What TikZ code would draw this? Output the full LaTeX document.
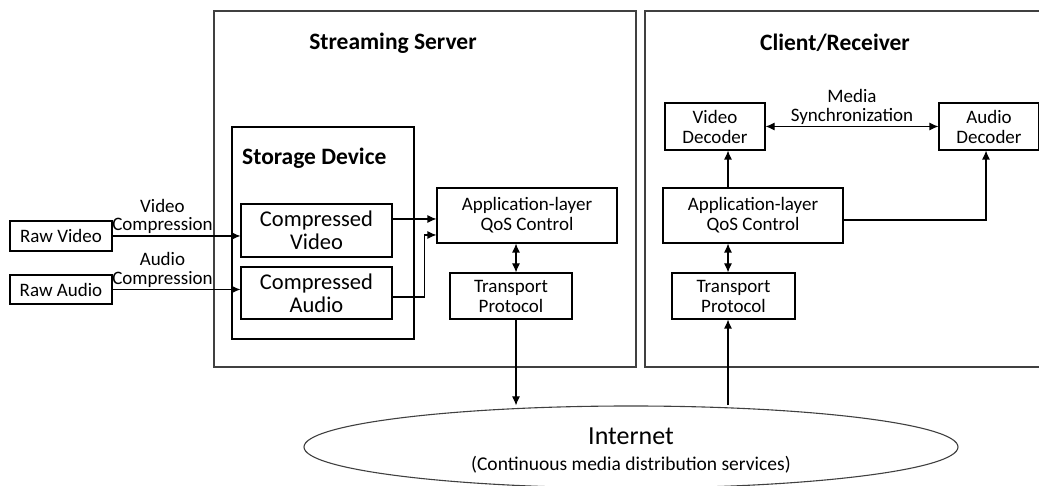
\documentclass[tikz,border=0pt]{standalone}
\usepackage{fontspec}
\setmainfont{Carlito}
\usetikzlibrary{positioning}
\usetikzlibrary{shapes,arrows.meta}

\tikzset{
	frame/.style={draw=black!75, line width=1.3pt},
	blk/.style={draw, line width=1.1pt, inner sep=0pt, align=center, font=\fontsize{19}{20}\selectfont},
	bigblk/.style={blk, font=\fontsize{22.5}{23}\selectfont},
	title/.style={font=\fontsize{23.5}{25}\selectfont\bfseries, inner sep=0pt},
	lbl/.style={align=center, inner sep=1.5pt, font=\fontsize{19}{18.5}\selectfont},
	conn/.style={draw, line width=1.1pt, -{Latex[length=9pt,width=8pt]}},
	biconn/.style={draw, line width=1.1pt, {Latex[length=9pt,width=8pt]}-{Latex[length=9pt,width=8pt]}},
}

\begin{document}
\begin{tikzpicture}[x=1pt, y=1pt]
	\useasboundingbox (0,0) rectangle (1039,486);

	\node[frame, minimum width=422pt, minimum height=356pt] (server) at (425,297) {};
	\node[frame, minimum width=395pt, minimum height=356pt] (client) at (842.5,297) {};
	\node[title] (servertitle) at (393,443) {Streaming Server};
	\node[title] (clienttitle) at (835,443) {Client/Receiver};

	\node[draw, line width=1.1pt, minimum width=182pt, minimum height=212pt] (storage) at (323,253) {};
	\node[title, anchor=west] (storagetitle) at (242,328) {Storage Device};
	\node[bigblk, minimum width=151pt, minimum height=53pt] (cvideo) at (316.5,255.5) {Compressed\\Video};
	\node[bigblk, minimum width=151pt, minimum height=52pt] (caudio) at (316.5,193) {Compressed\\Audio};

	\node[blk, minimum width=102pt, minimum height=30pt] (rawvideo) at (61,250) {Raw Video};
	\node[blk, minimum width=102pt, minimum height=29pt] (rawaudio) at (61,196.5) {Raw Audio};

	\node[blk, minimum width=180pt, minimum height=55pt] (sqos) at (527,270.5) {Application-layer\\QoS Control};
	\node[blk, minimum width=122pt, minimum height=46pt] (stransport) at (511,190) {Transport\\Protocol};

	\node[blk, minimum width=100pt, minimum height=47pt] (vdec) at (715,359.5) {Video\\Decoder};
	\node[blk, minimum width=100pt, minimum height=47pt] (adec) at (989,359.5) {Audio\\Decoder};
	\node[blk, minimum width=180pt, minimum height=55pt] (cqos) at (753,270.5) {Application-layer\\QoS Control};
	\node[blk, minimum width=123pt, minimum height=46pt] (ctransport) at (733.5,190) {Transport\\Protocol};

	\node[ellipse, draw=black!75, line width=1.1pt, minimum width=654pt, minimum height=82pt] (internet) at (631,39) {};
	\node[align=center, inner sep=0pt, font=\fontsize{19.5}{26}\selectfont] (internettext) at ([yshift=-4pt]internet.center) {{\fontsize{26}{26}\selectfont Internet}\\(Continuous media distribution services)};


	\path[conn] (rawvideo.east) -- node[lbl, above, pos=0.39] {Video\\Compression} (rawvideo.east -| cvideo.west);
	\path[conn] (rawaudio.east) -- node[lbl, above, pos=0.39] {Audio\\Compression} (rawaudio.east -| caudio.west);

	\path[conn] ([yshift=11.5pt]cvideo.east) -- ([yshift=11.5pt]cvideo.east -| sqos.west);
	\path[conn] ([yshift=-4pt]caudio.east) -- ++(32,0) |- ([yshift=-19.5pt]sqos.west);
	\path[biconn] ([xshift=5pt]stransport.north) -- ([xshift=5pt]stransport.north |- sqos.south);
	\path[conn] ([xshift=5pt]stransport.south) -- ([xshift=5pt]stransport.south |- internet.north);

	\path[conn] ([xshift=-5.5pt]ctransport.south |- internet.north) -- ([xshift=-5.5pt]ctransport.south);
	\path[biconn] ([xshift=-5.5pt]ctransport.north) -- ([xshift=-5.5pt]ctransport.north |- cqos.south);
	\path[conn] ([xshift=-25pt]cqos.north) -- ([xshift=-25pt]cqos.north |- vdec.south);
	\path[conn] ([yshift=-4.5pt]cqos.east) -| ([xshift=-3pt]adec.south);
	\path[biconn] (vdec.east) -- node[lbl, above] {Media\\Synchronization} (adec.west);

\end{tikzpicture}
\end{document}
